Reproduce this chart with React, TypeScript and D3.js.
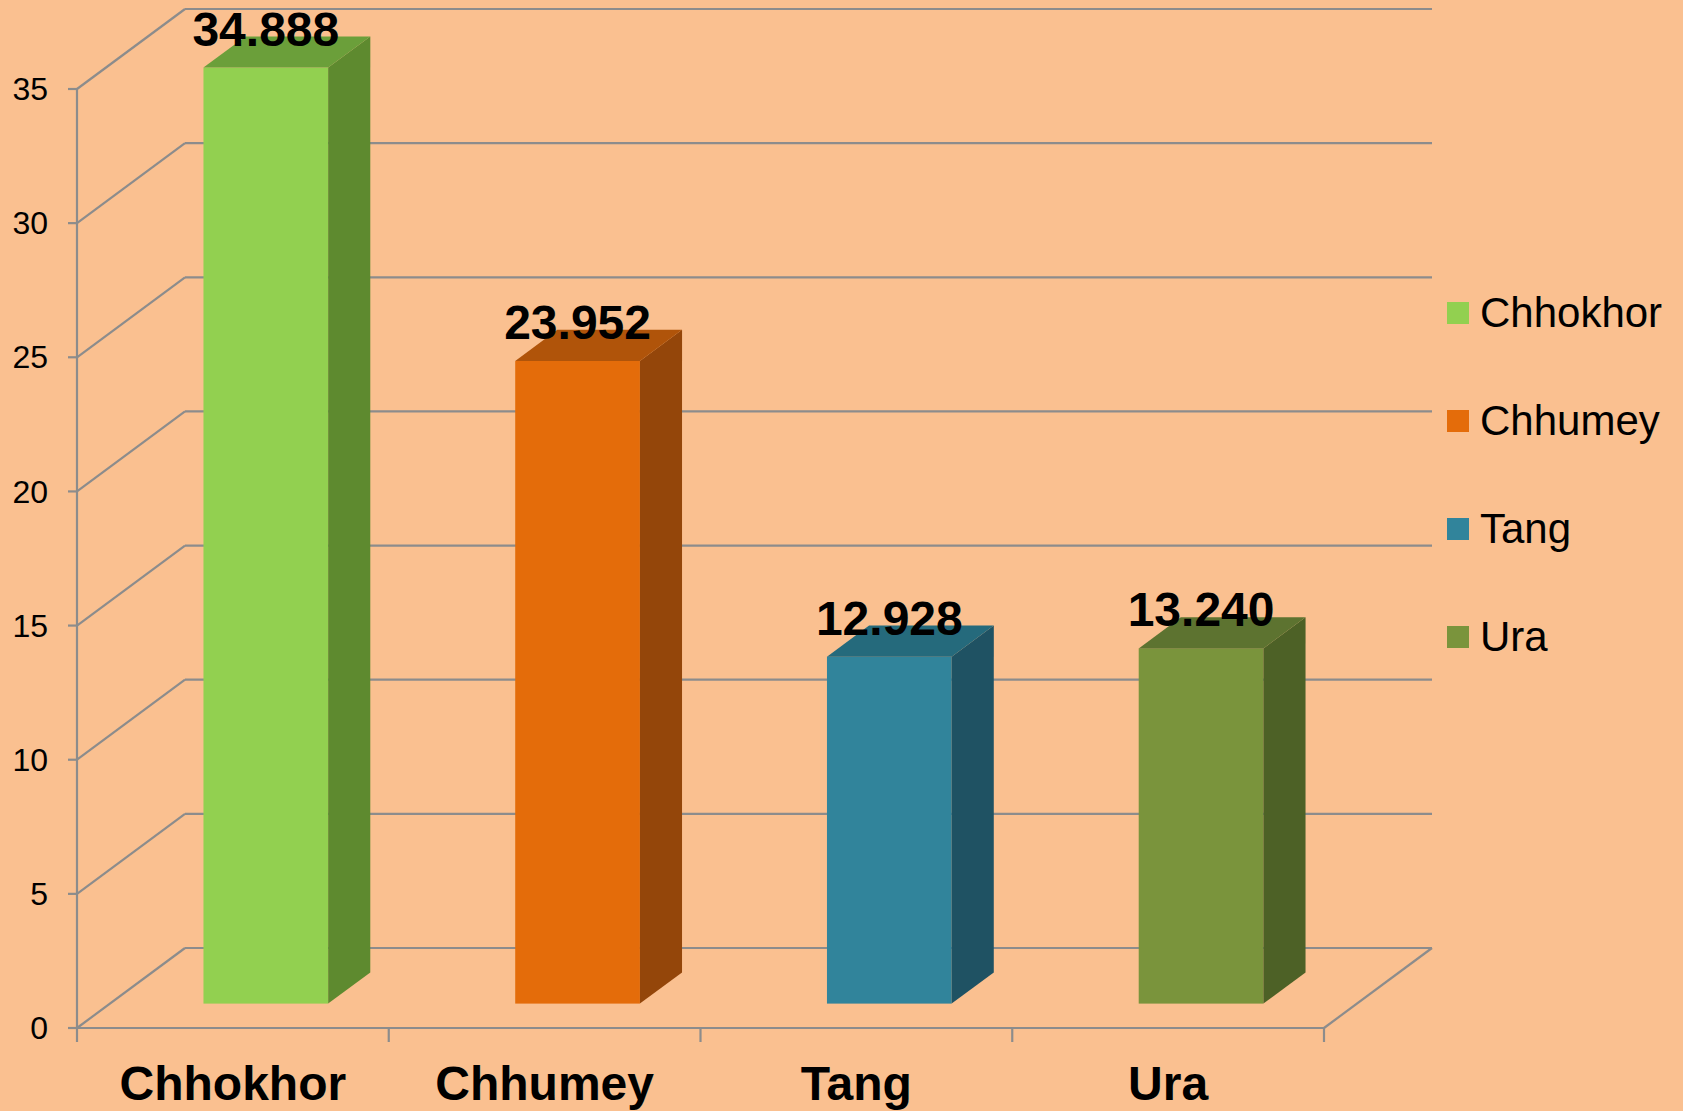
import React, { useEffect, useRef } from 'react';
import * as d3 from 'd3';

const categories = ['Chhokhor', 'Chhumey', 'Tang', 'Ura'];
const values = [34.888, 23.952, 12.928, 13.24];
const valueLabels = ['34.888', '23.952', '12.928', '13.240'];
const yTicks = [0, 5, 10, 15, 20, 25, 30, 35];

// front / top / side shades for each column
const frontColors = ['#92d050', '#e46c0a', '#31849b', '#7a943c'];
const topColors = ['#6b9f3a', '#b0540a', '#256a7c', '#5d7330'];
const sideColors = ['#5e8a2f', '#94460a', '#1f5263', '#4d6126'];

const FONT = '"Liberation Sans", Arial, Helvetica, sans-serif';

export default function App() {
  const svgRef = useRef<SVGSVGElement>(null);

  useEffect(() => {
    if (!svgRef.current) return;
    const svg = d3.select(svgRef.current);
    svg.selectAll('*').remove();

    const width = 1683;
    const height = 1111;

    // depth of the 3D box (back wall offset)
    const DX = 108;
    const DY = -80;
    const barD0 = 0.305;
    const barD = 0.39;

    const x = d3.scaleBand().domain(categories).range([77, 1324]).paddingInner(0).paddingOuter(0);
    const y = d3.scaleLinear().domain([0, 35]).range([1028, 89]);
    const bw = x.bandwidth() * 0.4;

    svg.append('rect')
      .attr('width', width)
      .attr('height', height)
      .attr('fill', '#fac090');

    const grid = '#8c8c8c';
    const x0 = x.range()[0];
    const x1 = x.range()[1];

    // walls: left diagonals + back wall lines
    yTicks.forEach(t => {
      svg.append('line')
        .attr('x1', x0).attr('y1', y(t))
        .attr('x2', x0 + DX).attr('y2', y(t) + DY)
        .attr('stroke', grid).attr('stroke-width', 2.2);
      svg.append('line')
        .attr('x1', x0 + DX).attr('y1', y(t) + DY)
        .attr('x2', x1 + DX).attr('y2', y(t) + DY)
        .attr('stroke', grid).attr('stroke-width', 2.2);
    });

    // floor right edge
    svg.append('line')
      .attr('x1', x1).attr('y1', y(0))
      .attr('x2', x1 + DX).attr('y2', y(0) + DY)
      .attr('stroke', grid).attr('stroke-width', 2.2);

    // axes
    svg.append('line')
      .attr('x1', x0).attr('y1', y(0))
      .attr('x2', x1).attr('y2', y(0))
      .attr('stroke', grid).attr('stroke-width', 2.2);
    svg.append('line')
      .attr('x1', x0).attr('y1', y(0))
      .attr('x2', x0).attr('y2', y(35))
      .attr('stroke', grid).attr('stroke-width', 2.2);

    yTicks.forEach(t => {
      svg.append('line')
        .attr('x1', x0 - 9).attr('y1', y(t))
        .attr('x2', x0).attr('y2', y(t))
        .attr('stroke', grid).attr('stroke-width', 2.2);
      svg.append('text')
        .attr('x', 48)
        .attr('y', y(t))
        .attr('dy', '0.35em')
        .attr('text-anchor', 'end')
        .attr('font-family', FONT)
        .attr('font-size', 32)
        .attr('fill', '#000')
        .text(t);
    });

    // category ticks at band edges
    const edges = categories.map(c => x(c) as number).concat([x1]);
    edges.forEach(ex => {
      svg.append('line')
        .attr('x1', ex).attr('y1', y(0))
        .attr('x2', ex).attr('y2', y(0) + 14)
        .attr('stroke', grid).attr('stroke-width', 2.2);
    });

    categories.forEach(c => {
      svg.append('text')
        .attr('x', (x(c) as number) + x.bandwidth() / 2)
        .attr('y', 1100)
        .attr('text-anchor', 'middle')
        .attr('font-family', FONT)
        .attr('font-size', 48)
        .attr('font-weight', 'bold')
        .attr('fill', '#000')
        .text(c);
    });

    // 3D columns
    const ddx = barD * DX;
    const ddy = barD * DY;
    categories.forEach((c, i) => {
      const left = (x(c) as number) + (x.bandwidth() - bw) / 2 + barD0 * DX;
      const right = left + bw;
      const top = y(values[i]) + barD0 * DY;
      const bottom = y(0) + barD0 * DY;
      const g = svg.append('g');

      g.append('rect')
        .attr('x', left).attr('y', top)
        .attr('width', bw).attr('height', bottom - top)
        .attr('fill', frontColors[i]);

      g.append('polygon')
        .attr('points', [
          [right, top], [right + ddx, top + ddy],
          [right + ddx, bottom + ddy], [right, bottom],
        ].map(p => p.join(',')).join(' '))
        .attr('fill', sideColors[i]);

      g.append('polygon')
        .attr('points', [
          [left, top], [left + ddx, top + ddy],
          [right + ddx, top + ddy], [right, top],
        ].map(p => p.join(',')).join(' '))
        .attr('fill', topColors[i]);

      g.append('text')
        .attr('x', (left + right) / 2)
        .attr('y', top - 22)
        .attr('text-anchor', 'middle')
        .attr('font-family', FONT)
        .attr('font-size', 48)
        .attr('font-weight', 'bold')
        .attr('fill', '#000')
        .text(valueLabels[i]);
    });

    // legend
    categories.forEach((c, i) => {
      const cy = 313 + i * 108;
      svg.append('rect')
        .attr('x', 1447).attr('y', cy - 11)
        .attr('width', 22).attr('height', 22)
        .attr('fill', frontColors[i]);
      svg.append('text')
        .attr('x', 1480)
        .attr('y', cy + 14)
        .attr('font-family', FONT)
        .attr('font-size', 42)
        .attr('fill', '#000')
        .text(c);
    });
  }, []);

  return (
    <svg
      ref={svgRef}
      width={1683}
      height={1111}
      viewBox="0 0 1683 1111"
      style={{ position: 'absolute', left: 0, top: 0, display: 'block' }}
    />
  );
}
